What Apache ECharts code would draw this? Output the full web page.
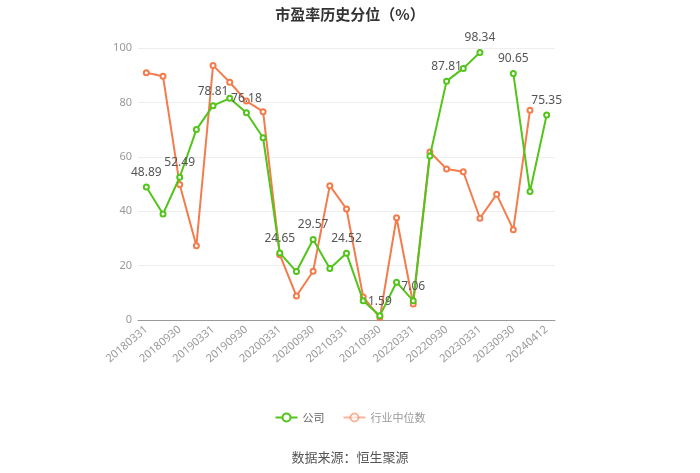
<!DOCTYPE html>
<html><head><meta charset="utf-8">
<script src="https://cdn.jsdelivr.net/npm/echarts@6/dist/echarts.min.js"></script>
<style>html,body{margin:0;padding:0;background:#fff}#c{width:700px;height:473px}</style>
</head><body><div id="c"></div>
<script>
var categories = ['20180331','20180630','20180930','20181231','20190331','20190630','20190930','20191231','20200331','20200630','20200930','20201231','20210331','20210630','20210930','20211231','20220331','20220630','20220930','20221231','20230331','20230630','20230930','20231231','20240412'];
var companyValues = [48.89,39.0,52.49,70.0,78.81,81.5,76.18,67.0,24.65,17.8,29.57,18.9,24.52,7.1,1.59,13.9,7.06,60.3,87.81,92.5,98.34,null,90.65,47.2,75.35];
var industryValues = [90.9,89.6,49.8,27.3,93.6,87.4,80.5,76.6,24.0,8.8,17.9,49.4,40.8,8.5,0.9,37.6,5.9,61.8,55.5,54.5,37.4,46.2,33.2,77.1,null];
var labeledIdx = [0,2,4,6,8,10,12,14,16,18,20,22,24];
var yTicks = [0,20,40,60,80,100];

var green = '#52c41a', orange = '#f47c4c';
var companyData = companyValues.map(function(v,i){
  return {value:v, label:{show: labeledIdx.indexOf(i)>=0}};
});
var chart = echarts.init(document.getElementById('c'));
chart.setOption({
  animation:false,
  title:{text:'市盈率历史分位（%）', left:'center', top:2, textStyle:{fontSize:15, fontWeight:'bold', color:'#333', fontFamily:'Noto Sans CJK SC'}},
  legend:{bottom:45, itemWidth:22, itemHeight:10, itemGap:18,
    textStyle:{color:'#666', fontSize:11, fontFamily:'Noto Sans CJK SC'},
    data:[{name:'公司'},{name:'行业中位数', itemStyle:{opacity:0.55}, lineStyle:{opacity:0.55}, textStyle:{color:'#999'}}]},
  graphic:[{type:'text', left:'center', top:451, style:{text:'数据来源：恒生聚源', fill:'#555', font:'13px "Noto Sans CJK SC"'}}],
  grid:{left:138, right:145, top:48, bottom:153},
  xAxis:{type:'category', data:categories, boundaryGap:true,
    axisLine:{lineStyle:{color:'#999'}},
    axisTick:{alignWithLabel:true, interval:1, lineStyle:{color:'#999'}},
    axisLabel:{interval:1, rotate:40, color:'#999', fontSize:11, fontFamily:'Noto Sans'}},
  yAxis:{type:'value', min:yTicks[0], max:yTicks[yTicks.length-1], interval:20,
    axisLine:{show:false}, axisTick:{show:false},
    axisLabel:{color:'#999', fontSize:11, margin:6, fontFamily:'Noto Sans'},
    splitLine:{lineStyle:{color:'#eee'}}},
  series:[
    {name:'公司', type:'line', data:companyData, color:green, symbol:'emptyCircle', symbolSize:5,
     lineStyle:{width:2}, connectNulls:false,
     label:{position:'top', color:'#555', fontSize:12, fontFamily:'Noto Sans'}, z:3},
    {name:'行业中位数', type:'line', data:industryValues, color:orange, symbol:'emptyCircle', symbolSize:5,
     lineStyle:{width:2}, connectNulls:false, z:2}
  ]
});
</script></body></html>
